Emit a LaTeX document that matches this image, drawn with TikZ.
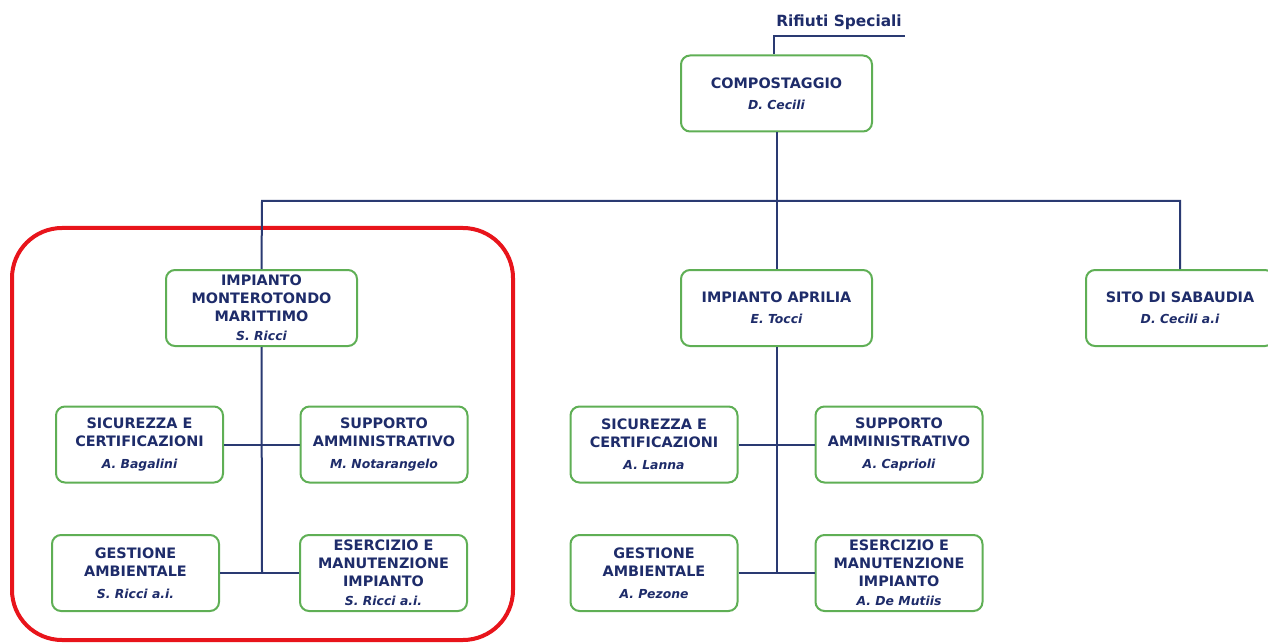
\documentclass[tikz,border=0pt]{standalone}
\usepackage{fontspec}
\setmainfont{DejaVu Sans}
\definecolor{navy}{HTML}{1E2C6A}
\definecolor{linenavy}{HTML}{2A3A72}
\definecolor{boxgreen}{HTML}{5FAF55}
\definecolor{ringred}{HTML}{E8141B}
\newcommand{\ttl}{\fontsize{14.4}{18}\selectfont\bfseries}
\newcommand{\who}[2][3pt]{\\[#1]{\fontsize{12.4}{18}\selectfont\bfseries\itshape #2}}
\begin{document}
\begin{tikzpicture}[x=1pt,y=-1pt,
  unit/.style={draw=boxgreen, line width=2pt, rounded corners=9pt, fill=white,
    align=center, inner sep=0pt, text=navy, font=\ttl},
  topunit/.style={unit, minimum width=191pt, minimum height=76pt},
  subunit/.style={unit, minimum width=167pt, minimum height=76pt},
  link/.style={draw=linenavy, line width=2pt},
  ring/.style={draw=ringred, line width=4pt, rounded corners=50pt}]
\useasboundingbox (0,0) rectangle (1268,644);

% highlight around the Monterotondo branch
\draw[ring] (12,228) rectangle (513,640);

% coordinates for the bus lines
\coordinate (rsend) at (905,36);
\coordinate (busL) at (262,201);
\coordinate (busR) at (1180,201);
\coordinate (monbot) at (262,572);
\coordinate (aprbot) at (776.5,572);

% header label
\node[text=navy, font=\fontsize{15.4}{17}\selectfont\bfseries] (rs) at (839,22) {Rifiuti Speciali};

% top level
\node[topunit] (comp) at (776.5,93.5) {COMPOSTAGGIO\who{D. Cecili}};
\node[topunit] (mon) at (261.5,308) {IMPIANTO\\MONTEROTONDO\\MARITTIMO\who[1pt]{S. Ricci}};
\node[topunit] (apr) at (776.5,308) {IMPIANTO APRILIA\who{E. Tocci}};
\node[topunit, minimum width=188pt] (sab) at (1180,308) {SITO DI SABAUDIA\who{D. Cecili a.i}};

% Monterotondo branch
\node[subunit] (sic1) at (139.5,444.5) {SICUREZZA E\\CERTIFICAZIONI\who[4pt]{A. Bagalini}};
\node[subunit] (sup1) at (384,444.5) {SUPPORTO\\AMMINISTRATIVO\who[4pt]{M. Notarangelo}};
\node[subunit] (ges1) at (135.5,573) {GESTIONE\\AMBIENTALE\who[4pt]{S. Ricci a.i.}};
\node[subunit] (ese1) at (383.5,573) {ESERCIZIO E\\MANUTENZIONE\\IMPIANTO\who[1pt]{S. Ricci a.i.}};

% Aprilia branch
\node[subunit] (sic2) at (654,444.5) {SICUREZZA E\\CERTIFICAZIONI\who[4pt]{A. Lanna}};
\node[subunit] (sup2) at (899,444.5) {SUPPORTO\\AMMINISTRATIVO\who[4pt]{A. Caprioli}};
\node[subunit] (ges2) at (654,573) {GESTIONE\\AMBIENTALE\who[4pt]{A. Pezone}};
\node[subunit] (ese2) at (899,573) {ESERCIZIO E\\MANUTENZIONE\\IMPIANTO\who[1pt]{A. De Mutiis}};

% connectors
\draw[link] ([xshift=-3pt]comp.north) |- (rsend);
\draw[link] (comp.south) -- (apr.north);
\draw[link] (mon.north) -- (busL) -- (busR) -- (sab.north);
\draw[link] (mon.south) -- (monbot);
\draw[link] (sic1.east) -- (sup1.west);
\draw[link] (ges1.east) -- (ese1.west);
\draw[link] (apr.south) -- (aprbot);
\draw[link] (sic2.east) -- (sup2.west);
\draw[link] (ges2.east) -- (ese2.west);
\end{tikzpicture}
\end{document}
